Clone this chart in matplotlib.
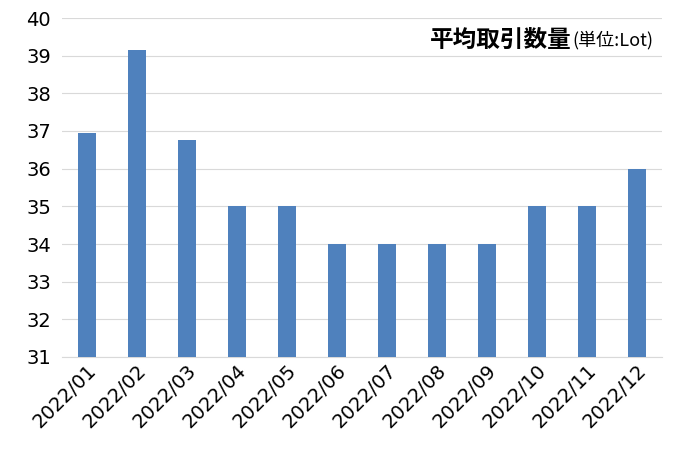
import matplotlib.pyplot as plt

plt.rcParams['font.family'] = ['Noto Sans CJK JP', 'DejaVu Sans']

months = ['2022/01', '2022/02', '2022/03', '2022/04', '2022/05', '2022/06',
          '2022/07', '2022/08', '2022/09', '2022/10', '2022/11', '2022/12']
avg_lots = [36.95, 39.15, 36.75, 35, 35, 34, 34, 34, 34, 35, 35, 36]

fig = plt.figure(figsize=(6.79, 4.53), dpi=100)
ax = fig.add_axes([62 / 679, 1 - 357 / 453, 600 / 679, 339 / 453])

x = range(len(months))
ax.bar(x, [v - 31 for v in avg_lots], bottom=31, width=0.35, color='#4f81bd', zorder=3)

ax.set_ylim(31, 40)
ax.set_xlim(-0.5, len(months) - 0.5)
ax.set_yticks(range(31, 41))
ax.tick_params(axis='y', labelsize=14, length=0, pad=8)
ax.tick_params(axis='x', labelsize=14, length=0, pad=3)
ax.set_xticks(list(x))
ax.set_xticklabels(months, rotation=45, ha='right', rotation_mode='anchor')
for lab in ax.get_xticklabels() + ax.get_yticklabels():
    lab.set_family('DejaVu Sans')
ax.grid(axis='y', color='#d9d9d9', linewidth=0.8, zorder=0)
for side in ['top', 'right', 'left']:
    ax.spines[side].set_visible(False)
ax.spines['bottom'].set_color('#d9d9d9')

t = ax.annotate('(単位:Lot)', xy=(0.985, 0.935), xycoords='axes fraction',
                fontsize=13, ha='right', va='center')
fig.canvas.draw()
bb = t.get_window_extent()
ax.annotate('平均取引数量', xy=(bb.x0, (bb.y0 + bb.y1) / 2), xycoords='figure pixels',
            fontsize=17, fontweight='bold', ha='right', va='center')

fig.savefig('out.png', dpi=100)
